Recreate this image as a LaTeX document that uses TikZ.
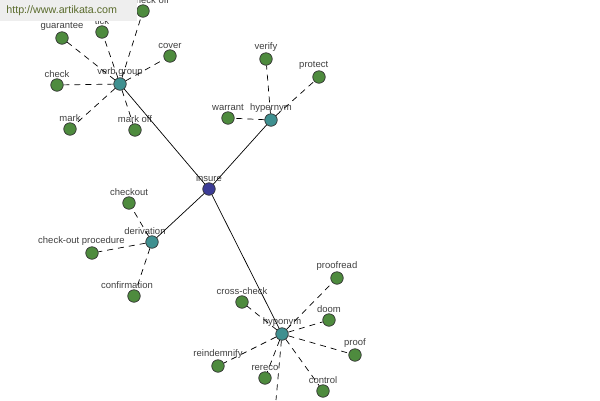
\documentclass[tikz,border=0pt]{standalone}
\usepackage{fontspec}
\setmainfont{Liberation Sans}
\definecolor{leafgreen}{HTML}{4E8B3E}
\definecolor{hubteal}{HTML}{3F9090}
\definecolor{rootblue}{HTML}{3C3C96}
\definecolor{urlgreen}{HTML}{5A6B2C}
\definecolor{boxgray}{HTML}{EEEEEE}
\tikzset{
  lbl/.style={font=\fontsize{5.4}{6}\selectfont,text=black!75,inner sep=0.5pt},
  dot/.style={circle,draw=black!80,thin,minimum size=0.25cm,inner sep=0pt,label distance=-1.5pt},
  leaf/.style={dot,fill=leafgreen},
  hub/.style={dot,fill=hubteal},
  root/.style={dot,fill=rootblue},
  link/.style={draw,thin},
  rel/.style={draw,thin,dash pattern=on 1.2mm off 1mm}
}
\begin{document}
\begin{tikzpicture}[x=0.02cm,y=-0.02cm]
  \useasboundingbox[fill=white] (0,0) rectangle (600,400);

  % centre and hubs
  \node[root,label={[lbl]above:insure}]     (insure) at (209,189) {};
  \node[hub,label={[lbl]above:verb group}]  (verbgroup) at (120,84) {};
  \node[hub,label={[lbl]above:hypernym}]    (hypernym) at (271,120) {};
  \node[hub,label={[lbl,xshift=-4]above:derivation}]  (derivation) at (152,242) {};
  \node[hub,label={[lbl]above:hyponym}]     (hyponym) at (282,334) {};

  % leaves
  \node[leaf,label={[lbl,xshift=4]above:check off}]   (checkoff) at (143,11) {};
  \node[leaf,label={[lbl]above:tick}]        (tick) at (102,32) {};
  \node[leaf,label={[lbl]above:guarantee}]   (guarantee) at (62,38) {};
  \node[leaf,label={[lbl]above:cover}]       (cover) at (170,56) {};
  \node[leaf,label={[lbl]above:check}]       (check) at (57,85) {};
  \node[leaf,label={[lbl]above:mark}]        (mark) at (70,129) {};
  \node[leaf,label={[lbl]above:mark off}]    (markoff) at (135,130) {};

  \node[leaf,label={[lbl]above:verify}]      (verify) at (266,59) {};
  \node[leaf,label={[lbl,xshift=-3]above:protect}]     (protect) at (319,77) {};
  \node[leaf,label={[lbl]above:warrant}]     (warrant) at (228,118) {};

  \node[leaf,label={[lbl]above:checkout}]    (checkout) at (129,203) {};
  \node[leaf,label={[lbl,xshift=-6]above:check-out procedure}] (coproc) at (92,253) {};
  \node[leaf,label={[lbl,xshift=-4]above:confirmation}] (confirm) at (134,296) {};

  \node[leaf,label={[lbl]above:proofread}]   (proofread) at (337,278) {};
  \node[leaf,label={[lbl]above:cross-check}] (crosscheck) at (242,302) {};
  \node[leaf,label={[lbl]above:doom}]        (doom) at (329,320) {};
  \node[leaf,label={[lbl]above:proof}]       (proof) at (355,355) {};
  \node[leaf,label={[lbl]above:reindemnify}] (reindemnify) at (218,366) {};
  \node[leaf,label={[lbl]above:rereco}]      (rereco) at (265,378) {};
  \node[leaf,label={[lbl]above:control}]     (control) at (323,391) {};
  \coordinate (below) at (276,400);

  % solid links from insure
  \path[link] (insure) -- (verbgroup);
  \path[link] (insure) -- (hypernym);
  \path[link] (insure) -- (derivation);
  \path[link] (insure) -- (hyponym);

  % url box
  \fill[boxgray] (0,0) rectangle (137,21);
  \node[anchor=west,text=urlgreen,font=\fontsize{6.1}{7}\selectfont,inner sep=0pt] (url) at (6,10.5) {http://www.artikata.com};

  % dashed links to leaves
  \foreach \l in {checkoff,tick,guarantee,cover,check,mark,markoff}
    \path[rel] (verbgroup) -- (\l);
  \foreach \l in {verify,protect,warrant}
    \path[rel] (hypernym) -- (\l);
  \foreach \l in {checkout,coproc,confirm}
    \path[rel] (derivation) -- (\l);
  \foreach \l in {proofread,crosscheck,doom,proof,reindemnify,rereco,control}
    \path[rel] (hyponym) -- (\l);
  \path[rel] (hyponym) -- (below);
\end{tikzpicture}
\end{document}
